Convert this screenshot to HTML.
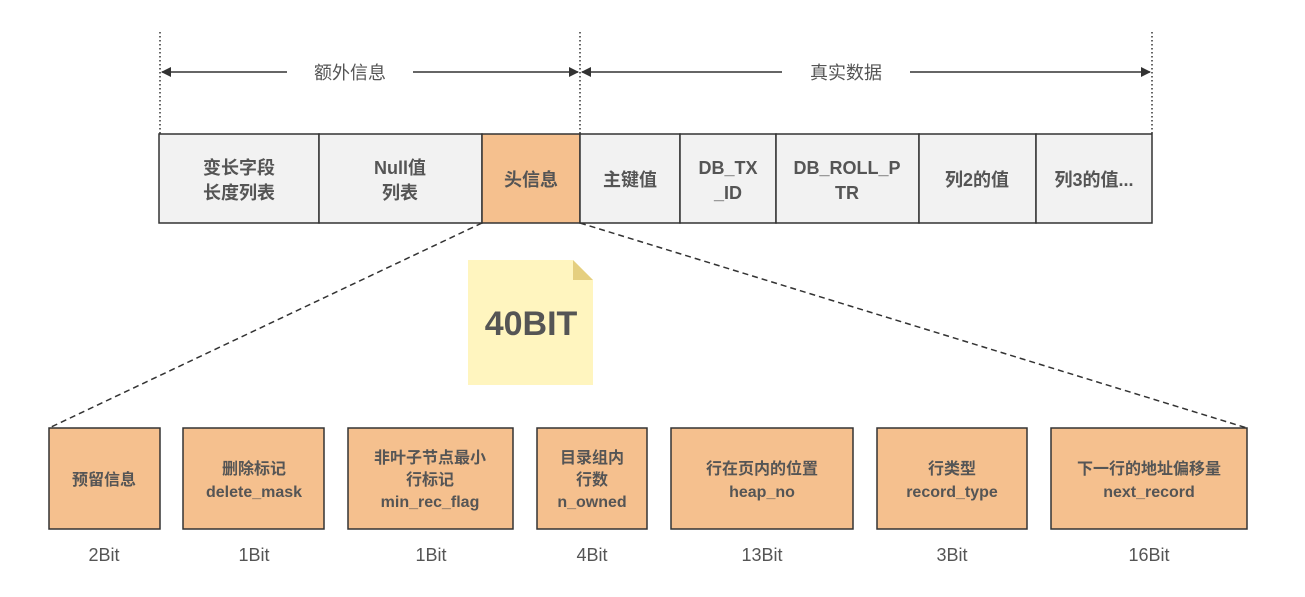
<!DOCTYPE html>
<html><head><meta charset="utf-8"><style>
html,body{margin:0;padding:0;background:#fff;}
svg{display:block;}
text{font-family:"Liberation Sans","Noto Sans CJK SC",sans-serif;fill:#555;}
.b{font-weight:bold;font-size:18px;}
.s{font-size:16px;}
.l{font-size:18px;}
</style></head><body>
<svg width="1305" height="597" viewBox="0 0 1305 597" xmlns="http://www.w3.org/2000/svg">
<defs><marker id="a" markerWidth="10" markerHeight="10" refX="9" refY="5" orient="auto" markerUnits="userSpaceOnUse"><path d="M0,0 L10,5 L0,10 Z" fill="#333"/></marker></defs>
<g stroke="#333" stroke-width="1.5" stroke-dasharray="1.5,2.5">
<line x1="160" y1="32" x2="160" y2="134"/><line x1="580" y1="32" x2="580" y2="134"/><line x1="1152" y1="32" x2="1152" y2="134"/>
</g>
<g stroke="#333" stroke-width="1.5">
<line x1="287" y1="72" x2="162" y2="72" marker-end="url(#a)"/>
<line x1="413" y1="72" x2="578" y2="72" marker-end="url(#a)"/>
<line x1="782" y1="72" x2="582" y2="72" marker-end="url(#a)"/>
<line x1="910" y1="72" x2="1150" y2="72" marker-end="url(#a)"/>
</g>
<text class="l" x="350" y="79" text-anchor="middle">额外信息</text>
<text class="l" x="846" y="79" text-anchor="middle">真实数据</text>
<g stroke="#333" stroke-width="1.5">
<rect x="159" y="134" width="160" height="89" fill="#f2f2f2"/>
<rect x="319" y="134" width="163" height="89" fill="#f2f2f2"/>
<rect x="482" y="134" width="98" height="89" fill="#f5c08e"/>
<rect x="580" y="134" width="100" height="89" fill="#f2f2f2"/>
<rect x="680" y="134" width="96" height="89" fill="#f2f2f2"/>
<rect x="776" y="134" width="143" height="89" fill="#f2f2f2"/>
<rect x="919" y="134" width="117" height="89" fill="#f2f2f2"/>
<rect x="1036" y="134" width="116" height="89" fill="#f2f2f2"/>
</g>
<g class="b" text-anchor="middle">
<text class="b" x="239" y="174">变长字段</text><text class="b" x="239" y="199">长度列表</text>
<text class="b" x="400" y="174">Null值</text><text class="b" x="400" y="199">列表</text>
<text class="b" x="531" y="186">头信息</text>
<text class="b" x="630" y="186">主键值</text>
<text class="b" x="728" y="174">DB_TX</text><text class="b" x="728" y="199">_ID</text>
<text class="b" x="847" y="174">DB_ROLL_P</text><text class="b" x="847" y="199">TR</text>
<text class="b" x="977" y="186">列2的值</text>
<text class="b" x="1094" y="186">列3的值...</text>
</g>
<g stroke="#333" stroke-width="1.5" stroke-dasharray="6,4">
<line x1="482" y1="223" x2="49" y2="428"/>
<line x1="580" y1="223" x2="1247" y2="428"/>
</g>
<path d="M468,260 L573,260 L593,280 L593,385 L468,385 Z" fill="#fff5bf"/>
<path d="M573,260 L593,280 L573,280 Z" fill="#e5cf7f"/>
<text x="531" y="335" text-anchor="middle" style="font-weight:bold;font-size:34px">40BIT</text>
<g stroke="#333" stroke-width="1.5" fill="#f5c08e">
<rect x="49" y="428" width="111" height="101"/>
<rect x="183" y="428" width="141" height="101"/>
<rect x="348" y="428" width="165" height="101"/>
<rect x="537" y="428" width="110" height="101"/>
<rect x="671" y="428" width="182" height="101"/>
<rect x="877" y="428" width="150" height="101"/>
<rect x="1051" y="428" width="196" height="101"/>
</g>
<g text-anchor="middle">
<text class="b s" x="104" y="485" style="font-weight:bold">预留信息</text>
<text class="b s" x="254" y="474" style="font-weight:bold">删除标记</text><text class="b s" x="254" y="497" style="font-weight:bold">delete_mask</text>
<text class="b s" x="430" y="463" style="font-weight:bold">非叶子节点最小</text><text class="b s" x="430" y="485" style="font-weight:bold">行标记</text><text class="b s" x="430" y="507" style="font-weight:bold">min_rec_flag</text>
<text class="b s" x="592" y="463" style="font-weight:bold">目录组内</text><text class="b s" x="592" y="485" style="font-weight:bold">行数</text><text class="b s" x="592" y="507" style="font-weight:bold">n_owned</text>
<text class="b s" x="762" y="474" style="font-weight:bold">行在页内的位置</text><text class="b s" x="762" y="497" style="font-weight:bold">heap_no</text>
<text class="b s" x="952" y="474" style="font-weight:bold">行类型</text><text class="b s" x="952" y="497" style="font-weight:bold">record_type</text>
<text class="b s" x="1149" y="474" style="font-weight:bold">下一行的地址偏移量</text><text class="b s" x="1149" y="497" style="font-weight:bold">next_record</text>
<text class="l" x="104" y="561">2Bit</text>
<text class="l" x="254" y="561">1Bit</text>
<text class="l" x="431" y="561">1Bit</text>
<text class="l" x="592" y="561">4Bit</text>
<text class="l" x="762" y="561">13Bit</text>
<text class="l" x="952" y="561">3Bit</text>
<text class="l" x="1149" y="561">16Bit</text>
</g>
</svg>
</body></html>
